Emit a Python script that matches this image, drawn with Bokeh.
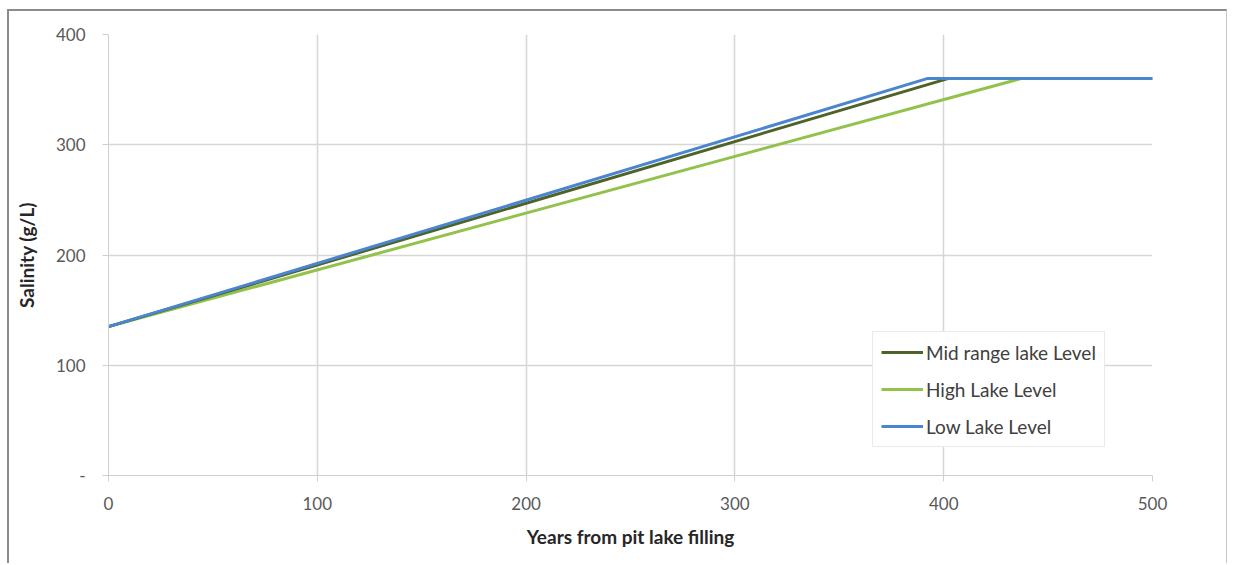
from bokeh.plotting import figure
from bokeh.models import FixedTicker, Legend, LegendItem, Range1d
from bokeh.embed import file_html
from bokeh.resources import INLINE

# Data
mid_years = [0, 402, 500]
mid_salinity = [135, 360, 360]
high_years = [0, 437, 500]
high_salinity = [135, 360, 360]
low_years = [0, 392, 500]
low_salinity = [135, 360, 360]

x_ticks = [0, 100, 200, 300, 400, 500]
y_ticks = [0, 100, 200, 300, 400]
y_tick_labels = {0: "-", 100: "100", 200: "200", 300: "300", 400: "400"}

FONT = "Lato"

p = figure(width=1220, height=554, output_backend="svg", toolbar_location=None,
           x_range=Range1d(0, 500), y_range=Range1d(0, 400),
           min_border_left=99, min_border_right=77, min_border_top=23, min_border_bottom=90)
p.styles = {"margin-left": "7px", "margin-top": "9px",
            "border-top": "2px solid #8c8c8c", "border-left": "2px solid #8c8c8c",
            "border-right": "1px solid #c8c8c8"}
p.outline_line_color = None
p.background_fill_color = "white"

r_high = p.line(high_years, high_salinity, line_color="#92c24b", line_width=3)
r_mid = p.line(mid_years, mid_salinity, line_color="#4f6228", line_width=3)
r_low = p.line(low_years, low_salinity, line_color="#4a86d0", line_width=3)

for ax in (p.xaxis[0], p.yaxis[0]):
    ax.axis_line_color = "#d0d0d0"
    ax.major_tick_line_color = "#d0d0d0"
    ax.major_tick_out = 6
    ax.major_tick_in = 0
    ax.minor_tick_line_color = None
    ax.major_label_text_color = "#595959"
    ax.major_label_text_font = FONT
    ax.major_label_text_font_size = "17px"
    ax.axis_label_text_font = FONT
    ax.axis_label_text_font_style = "bold"
    ax.axis_label_text_font_size = "19px"
    ax.axis_label_text_color = "#262626"

p.xaxis.ticker = FixedTicker(ticks=x_ticks)
p.yaxis.ticker = FixedTicker(ticks=y_ticks)
p.yaxis.major_label_overrides = y_tick_labels
p.xaxis.axis_label = "Years from pit lake filling"
p.yaxis.axis_label = "Salinity (g/L)"
p.xaxis.major_label_standoff = 15
p.yaxis.major_label_standoff = 17
p.xaxis.axis_label_standoff = 12
p.yaxis.axis_label_standoff = 15

p.xgrid.ticker = FixedTicker(ticks=x_ticks)
p.ygrid.ticker = FixedTicker(ticks=y_ticks)
p.grid.grid_line_color = "#d6d6d6"
p.grid.grid_line_width = 1.5

legend = Legend(items=[
    LegendItem(label="Mid range lake Level", renderers=[r_mid]),
    LegendItem(label="High Lake Level", renderers=[r_high]),
    LegendItem(label="Low Lake Level", renderers=[r_low]),
], location=(764, 28))
legend.label_text_font = FONT
legend.label_text_font_size = "19px"
legend.label_text_color = "#404040"
legend.glyph_width = 42
legend.glyph_height = 24
legend.label_height = 24
legend.label_standoff = 3
legend.spacing = 13
legend.padding = 8
legend.margin = 0
legend.border_line_color = "#d6d6d6"
legend.background_fill_alpha = 1
p.add_layout(legend)

open("out.html", "w").write(file_html(p, INLINE))
